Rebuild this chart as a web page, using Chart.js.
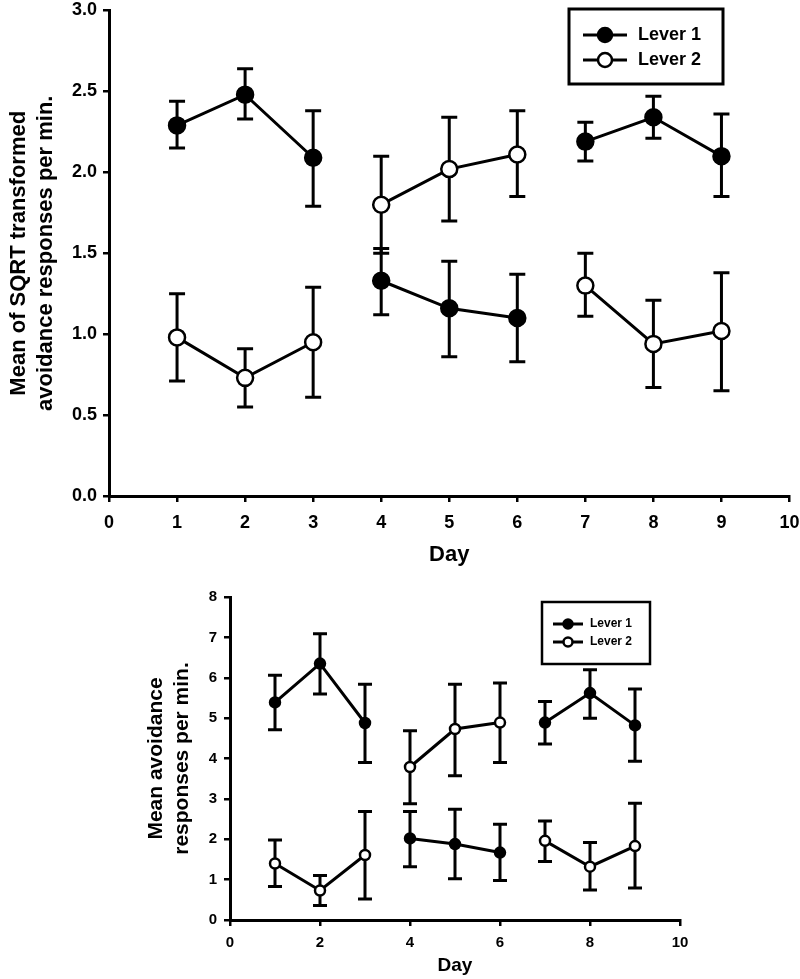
<!DOCTYPE html>
<html>
<head>
<meta charset="utf-8">
<script src="https://cdn.jsdelivr.net/npm/chart.js@4.4.1/dist/chart.umd.min.js"></script>
<style>
  body { margin: 0; background: #fff; }
  canvas { display: block; }
</style>
</head>
<body>
<canvas id="sqrt-chart" width="800" height="580"></canvas>
<canvas id="raw-chart" width="800" height="399"></canvas>
<script>
// Days and the three 3-day phases (lines break between phases)
const days = [1, 2, 3, 4, 5, 6, 7, 8, 9];
const phase = [1, 1, 1, 2, 2, 2, 3, 3, 3];

// Top panel: mean of SQRT transformed avoidance responses per min.
const sqrtLever1 = [2.29, 2.48, 2.09, 1.33, 1.16, 1.10, 2.19, 2.34, 2.10];
const sqrtLever1Hi = [2.44, 2.64, 2.38, 1.53, 1.45, 1.37, 2.31, 2.47, 2.36];
const sqrtLever1Lo = [2.15, 2.33, 1.79, 1.12, 0.86, 0.83, 2.07, 2.21, 1.85];
const sqrtLever2 = [0.98, 0.73, 0.95, 1.80, 2.02, 2.11, 1.30, 0.94, 1.02];
const sqrtLever2Hi = [1.25, 0.91, 1.29, 2.10, 2.34, 2.38, 1.50, 1.21, 1.38];
const sqrtLever2Lo = [0.71, 0.55, 0.61, 1.50, 1.70, 1.85, 1.11, 0.67, 0.65];

// Bottom panel: mean avoidance responses per min.
const rawLever1 = [5.39, 6.35, 4.88, 2.02, 1.88, 1.67, 4.89, 5.62, 4.82];
const rawLever1Hi = [6.06, 7.09, 5.84, 2.69, 2.74, 2.37, 5.41, 6.20, 5.72];
const rawLever1Lo = [4.71, 5.60, 3.90, 1.32, 1.02, 0.98, 4.36, 5.00, 3.93];
const rawLever2 = [1.40, 0.73, 1.61, 3.79, 4.73, 4.89, 1.96, 1.32, 1.83];
const rawLever2Hi = [1.98, 1.10, 2.69, 4.69, 5.84, 5.87, 2.45, 1.92, 2.89];
const rawLever2Lo = [0.83, 0.36, 0.52, 2.88, 3.57, 3.90, 1.45, 0.74, 0.79];

const seriesLabels = ["Lever 1", "Lever 2"];

const FONT = "'Liberation Sans', Arial, Helvetica, sans-serif";
Chart.defaults.font.family = FONT;
Chart.defaults.font.weight = "bold";
Chart.defaults.color = "#000";

// combine mean + error limits into points
function points(mean, hi, lo) {
  return days.map((d, i) => ({ x: d, y: mean[i], hi: hi[i], lo: lo[i] }));
}

// draw the vertical error bars with caps, under the markers
const errorBars = {
  id: "errorBars",
  beforeDatasetsDraw(chart, args, opts) {
    const { ctx, scales } = chart;
    ctx.save();
    ctx.strokeStyle = "#000";
    ctx.lineWidth = opts.lineWidth;
    chart.data.datasets.forEach(function (ds) {
      ds.data.forEach(function (p) {
        const px = scales.x.getPixelForValue(p.x);
        const top = scales.y.getPixelForValue(p.hi);
        const bot = scales.y.getPixelForValue(p.lo);
        ctx.beginPath();
        ctx.moveTo(px, top);
        ctx.lineTo(px, bot);
        ctx.moveTo(px - opts.cap, top);
        ctx.lineTo(px + opts.cap, top);
        ctx.moveTo(px - opts.cap, bot);
        ctx.lineTo(px + opts.cap, bot);
        ctx.stroke();
      });
    });
    ctx.restore();
  },
};

// boxed legend like the original figure
const boxLegend = {
  id: "boxLegend",
  afterDraw(chart, args, o) {
    const ctx = chart.ctx;
    ctx.save();
    ctx.strokeStyle = "#000";
    ctx.lineWidth = o.border;
    ctx.strokeRect(o.left, o.top, o.width, o.height);
    chart.data.datasets.forEach(function (ds, i) {
      const yy = o.rows[i];
      ctx.lineWidth = ds.borderWidth;
      ctx.beginPath();
      ctx.moveTo(o.lineX1, yy);
      ctx.lineTo(o.lineX2, yy);
      ctx.stroke();
      ctx.beginPath();
      ctx.arc((o.lineX1 + o.lineX2) / 2, yy, o.radius, 0, Math.PI * 2);
      ctx.fillStyle = ds.pointBackgroundColor;
      ctx.fill();
      ctx.lineWidth = ds.pointBorderWidth;
      ctx.stroke();
      ctx.fillStyle = "#000";
      ctx.font = "bold " + o.fontSize + "px " + FONT;
      ctx.textBaseline = "middle";
      ctx.fillText(ds.label, o.textX, yy);
    });
    ctx.restore();
  },
};

function dataset(label, data, filled, radius) {
  return {
    label: label,
    data: data,
    borderColor: "#000",
    borderWidth: 3,
    pointRadius: radius,
    pointBackgroundColor: filled ? "#000" : "#fff",
    pointBorderColor: "#000",
    pointBorderWidth: 2.5,
    tension: 0,
    segment: {
      borderColor: function (c) {
        return phase[c.p0DataIndex] !== phase[c.p1DataIndex] ? "rgba(0,0,0,0)" : undefined;
      },
    },
  };
}

function makeChart(id, s) {
  return new Chart(document.getElementById(id), {
    type: "line",
    data: {
      datasets: [
        dataset(seriesLabels[0], points(s.l1, s.l1Hi, s.l1Lo), true, s.radius),
        dataset(seriesLabels[1], points(s.l2, s.l2Hi, s.l2Lo), false, s.radius),
      ],
    },
    plugins: [errorBars, boxLegend],
    options: {
      responsive: false,
      animation: false,
      devicePixelRatio: 1,
      layout: { padding: s.padding },
      plugins: {
        legend: { display: false },
        tooltip: { enabled: false },
        errorBars: { lineWidth: 3, cap: s.cap },
        boxLegend: s.legend,
      },
      scales: {
        x: {
          type: "linear",
          min: 0,
          max: 10,
          ticks: { stepSize: s.xStep, padding: s.xTickPad, font: { size: s.tickSize } },
          grid: { drawOnChartArea: false, tickLength: 6, color: "#000", lineWidth: 2.5 },
          border: { color: "#000", width: 3 },
          title: {
            display: true,
            text: "Day",
            font: { size: s.xTitleSize },
            padding: { top: 0, bottom: s.xTitlePad },
          },
          afterFit: function (sc) {
            sc.height = s.xHeight;
            sc.paddingLeft = 0;
            sc.paddingRight = 0;
          },
        },
        y: {
          min: 0,
          max: s.yMax,
          ticks: {
            stepSize: s.yStep,
            padding: s.yTickPad,
            font: { size: s.tickSize },
            callback: s.yFormat,
          },
          grid: { drawOnChartArea: false, tickLength: 6, color: "#000", lineWidth: 2.5 },
          border: { color: "#000", width: 3 },
          title: {
            display: true,
            text: s.yTitle,
            font: { size: s.yTitleSize },
            padding: { top: s.yTitlePad, bottom: 0 },
          },
          afterFit: function (sc) {
            sc.width = s.yWidth;
            sc.paddingTop = 0;
            sc.paddingBottom = 0;
          },
        },
      },
    },
  });
}

makeChart("sqrt-chart", {
  l1: sqrtLever1, l1Hi: sqrtLever1Hi, l1Lo: sqrtLever1Lo,
  l2: sqrtLever2, l2Hi: sqrtLever2Hi, l2Lo: sqrtLever2Lo,
  radius: 8,
  cap: 8,
  padding: { left: 0, top: 8, right: 10, bottom: 0 },
  xStep: 1,
  yStep: 0.5,
  yMax: 3,
  yFormat: function (v) { return v.toFixed(1); },
  tickSize: 18,
  xTickPad: 10,
  yTickPad: 6,
  xTitleSize: 22,
  xTitlePad: 12,
  xHeight: 84,
  yTitle: ["Mean of SQRT transformed", "avoidance responses per min."],
  yTitleSize: 22,
  yTitlePad: 6,
  yWidth: 109,
  legend: {
    left: 569, top: 9, width: 154, height: 75, border: 3,
    rows: [35, 60], lineX1: 583, lineX2: 627, radius: 7,
    textX: 638, fontSize: 18,
  },
});

makeChart("raw-chart", {
  l1: rawLever1, l1Hi: rawLever1Hi, l1Lo: rawLever1Lo,
  l2: rawLever2, l2Hi: rawLever2Hi, l2Lo: rawLever2Lo,
  radius: 5,
  cap: 7,
  padding: { left: 0, top: 17, right: 120, bottom: 0 },
  xStep: 2,
  yStep: 1,
  yMax: 8,
  yFormat: function (v) { return v; },
  tickSize: 15,
  xTickPad: 8,
  yTickPad: 7,
  xTitleSize: 19,
  xTitlePad: 2,
  xHeight: 59,
  yTitle: ["Mean avoidance", "responses per min."],
  yTitleSize: 21,
  yTitlePad: 144,
  yWidth: 230,
  legend: {
    left: 542, top: 22, width: 108, height: 62, border: 2.5,
    rows: [44, 62], lineX1: 553, lineX2: 583, radius: 4.5,
    textX: 590, fontSize: 12,
  },
});
</script>
</body>
</html>
